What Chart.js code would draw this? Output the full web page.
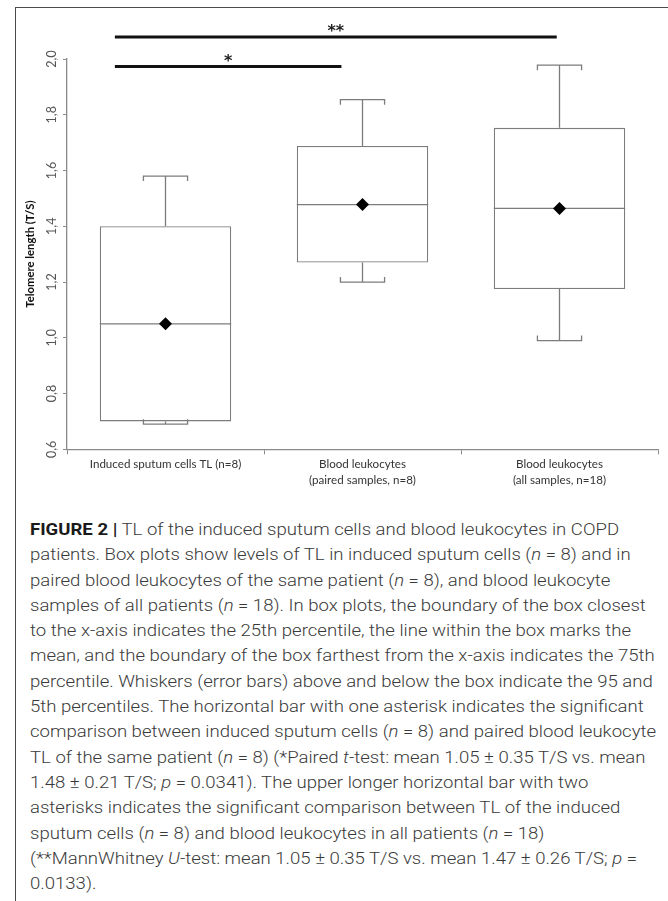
<!DOCTYPE html>
<html>
<head>
<meta charset="utf-8">
<script src="https://cdn.jsdelivr.net/npm/chart.js@4.4.1/dist/chart.umd.min.js"></script>
<style>
  html, body { margin: 0; padding: 0; background: #fff; overflow: hidden; }
  body { width: 668px; height: 901px; position: relative; }
  #frame { position: absolute; left: 15px; top: 7px; width: 720px; height: 1000px;
           border: 1.5px solid #4a4a4a; box-sizing: border-box; }
  #chart { position: absolute; left: 0; top: 0; }
  #caption { position: absolute; left: 30px; top: 517px; font-family: Roboto, 'Liberation Sans', sans-serif;
             font-weight: 300; font-size: 16.5px; line-height: 25.3px; color: #3a3a3a;
             transform-origin: 0 0; white-space: nowrap; }
  #caption b { color: #1a1a1a; font-weight: 700; }
</style>
</head>
<body>
<div id="frame"></div>
<canvas id="chart" width="668" height="500"></canvas>
<div id="caption">
  <div><span><b>FIGURE 2 |</b> TL of the induced sputum cells and blood leukocytes in COPD</span></div>
  <div><span>patients. Box plots show levels of TL in induced sputum cells (<i>n</i> = 8) and in</span></div>
  <div><span>paired blood leukocytes of the same patient (<i>n</i> = 8), and blood leukocyte</span></div>
  <div><span>samples of all patients (<i>n</i> = 18). In box plots, the boundary of the box closest</span></div>
  <div><span>to the x-axis indicates the 25th percentile, the line within the box marks the</span></div>
  <div><span>mean, and the boundary of the box farthest from the x-axis indicates the 75th</span></div>
  <div><span>percentile. Whiskers (error bars) above and below the box indicate the 95 and</span></div>
  <div><span>5th percentiles. The horizontal bar with one asterisk indicates the significant</span></div>
  <div><span>comparison between induced sputum cells (<i>n</i> = 8) and paired blood leukocyte</span></div>
  <div><span>TL of the same patient (<i>n</i> = 8) (*Paired <i>t</i>-test: mean 1.05 ± 0.35 T/S vs. mean</span></div>
  <div><span>1.48 ± 0.21 T/S; <i>p</i> = 0.0341). The upper longer horizontal bar with two</span></div>
  <div><span>asterisks indicates the significant comparison between TL of the induced</span></div>
  <div><span>sputum cells (<i>n</i> = 8) and blood leukocytes in all patients (<i>n</i> = 18)</span></div>
  <div><span>(**MannWhitney <i>U</i>-test: mean 1.05 ± 0.35 T/S vs. mean 1.47 ± 0.26 T/S; <i>p</i> =</span></div>
  <div><span>0.0133).</span></div>
</div>
<script>
const CATEGORIES = [
  ['Induced sputum cells TL (n=8)'],
  ['Blood leukocytes', '(paired samples, n=8)'],
  ['Blood leukocytes', '(all samples, n=18)'],
];
const P5 = [0.69, 1.20, 0.99];
const Q1 = [0.70, 1.27, 1.175];
const MEAN = [1.05, 1.478, 1.464];
const Q3 = [1.40, 1.688, 1.753];
const P95 = [1.58, 1.854, 1.978];
const Y_TICKS = ['0,6', '0,8', '1,0', '1,2', '1,4', '1,6', '1,8', '2,0'];

// significance bars, spans in category units, level in T/S
const SIG_LABELS = ['*', '**'];
const SIG_FROM = [-0.257, -0.257];
const SIG_TO = [0.893, 1.986];
const SIG_LEVEL = [1.973, 2.079];

const LINE_GREY = '#7c7c7c';
const AXIS_GREY = '#8a8a8a';
const LABEL_FONT = 'Lato, "Open Sans", sans-serif';

// whiskers + mean line, drawn right after the box dataset
const boxPlugin = {
  id: 'boxWhiskers',
  afterDatasetDraw(chart, args) {
    if (args.index !== 0) return;
    const ctx = chart.ctx;
    const y = chart.scales.y;
    ctx.save();
    ctx.strokeStyle = LINE_GREY;
    ctx.lineWidth = 1.3;
    args.meta.data.forEach((bar, i) => {
      const half = bar.width / 2;
      const cap = bar.width * 0.168;
      const tick = 5;
      const yMean = y.getPixelForValue(MEAN[i]);
      const yQ1 = y.getPixelForValue(Q1[i]);
      const yQ3 = y.getPixelForValue(Q3[i]);
      const yHi = y.getPixelForValue(P95[i]);
      const yLo = y.getPixelForValue(P5[i]);
      ctx.beginPath();
      ctx.moveTo(bar.x - half, yMean);
      ctx.lineTo(bar.x + half, yMean);
      ctx.moveTo(bar.x, yQ3);
      ctx.lineTo(bar.x, yHi);
      ctx.moveTo(bar.x - cap, yHi + tick);
      ctx.lineTo(bar.x - cap, yHi);
      ctx.lineTo(bar.x + cap, yHi);
      ctx.lineTo(bar.x + cap, yHi + tick);
      ctx.moveTo(bar.x, yQ1);
      ctx.lineTo(bar.x, yLo);
      ctx.moveTo(bar.x - cap, yLo - tick);
      ctx.lineTo(bar.x - cap, yLo);
      ctx.lineTo(bar.x + cap, yLo);
      ctx.lineTo(bar.x + cap, yLo - tick);
      ctx.stroke();
    });
    ctx.restore();
  },
};

const sigPlugin = {
  id: 'sigBars',
  afterDraw(chart) {
    const ctx = chart.ctx;
    const x = chart.scales.x;
    const y = chart.scales.y;
    const step = x.getPixelForValue(1) - x.getPixelForValue(0);
    const x0 = x.getPixelForValue(0);
    ctx.save();
    SIG_LABELS.forEach((label, i) => {
      const left = x0 + SIG_FROM[i] * step;
      const right = x0 + SIG_TO[i] * step;
      const level = y.getPixelForValue(SIG_LEVEL[i]);
      ctx.strokeStyle = '#111';
      ctx.lineWidth = 3;
      ctx.beginPath();
      ctx.moveTo(left, level);
      ctx.lineTo(right, level);
      ctx.stroke();
      ctx.fillStyle = '#222';
      ctx.font = 'bold 16px "DejaVu Sans", sans-serif';
      ctx.textAlign = 'center';
      ctx.textBaseline = 'alphabetic';
      ctx.fillText(label, (left + right) / 2, level - 1);
    });
    ctx.restore();
  },
};

new Chart(document.getElementById('chart'), {
  type: 'bar',
  data: {
    labels: CATEGORIES,
    datasets: [
      {
        label: 'IQR',
        data: Q1.map((lo, i) => [lo, Q3[i]]),
        backgroundColor: '#fff',
        borderColor: LINE_GREY,
        borderWidth: 1.3,
        borderSkipped: false,
        categoryPercentage: 1,
        barPercentage: 0.667,
        order: 1,
      },
      {
        type: 'line',
        label: 'Mean',
        data: MEAN,
        showLine: false,
        pointStyle: 'rectRot',
        pointRadius: 6.5,
        pointBackgroundColor: '#000',
        pointBorderColor: '#000',
        pointBorderWidth: 0,
        order: 0,
      },
    ],
  },
  options: {
    responsive: false,
    animation: false,
    devicePixelRatio: 1,
    layout: { padding: { left: 0, top: 59, right: 10, bottom: 0 } },
    plugins: { legend: { display: false }, tooltip: { enabled: false } },
    scales: {
      x: {
        offset: true,
        grid: { offset: true, drawOnChartArea: false, drawTicks: true, tickLength: 5, color: AXIS_GREY },
        border: { display: true, color: AXIS_GREY, width: 1.3 },
        ticks: {
          color: '#333',
          padding: 2,
          maxRotation: 0,
          autoSkip: false,
          font: { family: LABEL_FONT, size: 11.6, lineHeight: 1.4 },
        },
        afterFit: (scale) => { scale.height = 50.7; },
      },
      y: {
        min: 0.6,
        max: 2.0,
        ticks: {
          stepSize: 0.2,
          minRotation: 90,
          maxRotation: 90,
          crossAlign: 'center',
          padding: 2,
          color: '#555',
          font: { family: LABEL_FONT, size: 12.5 },
          callback: (value, index) => Y_TICKS[index],
        },
        grid: { drawOnChartArea: false, drawTicks: true, tickLength: 4, color: AXIS_GREY },
        border: { display: true, color: AXIS_GREY, width: 1.3 },
        title: {
          display: true,
          text: 'Telomere length (T/S)',
          color: '#111',
          padding: { top: 24, bottom: 0 },
          font: { family: LABEL_FONT, size: 11.3, weight: 'bold' },
        },
        afterFit: (scale) => { scale.width = 67; },
      },
    },
  },
  plugins: [boxPlugin, sigPlugin],
});

// squeeze caption to the condensed width of the original typesetting
const CAPTION_WIDTHS = [598, 599, 581, 613, 596, 618, 618, 600, 624, 621, 571, 580, 514, 624, 69];
function fitCaption() {
  const caption = document.getElementById('caption');
  caption.style.transform = 'none';
  const spans = caption.querySelectorAll('span');
  let measured = 0;
  spans.forEach((s) => { measured += s.getBoundingClientRect().width; });
  const target = CAPTION_WIDTHS.reduce((a, b) => a + b, 0);
  caption.style.transform = `scaleX(${target / measured})`;
}
fitCaption();
document.fonts.ready.then(fitCaption);
</script>
</body>
</html>
